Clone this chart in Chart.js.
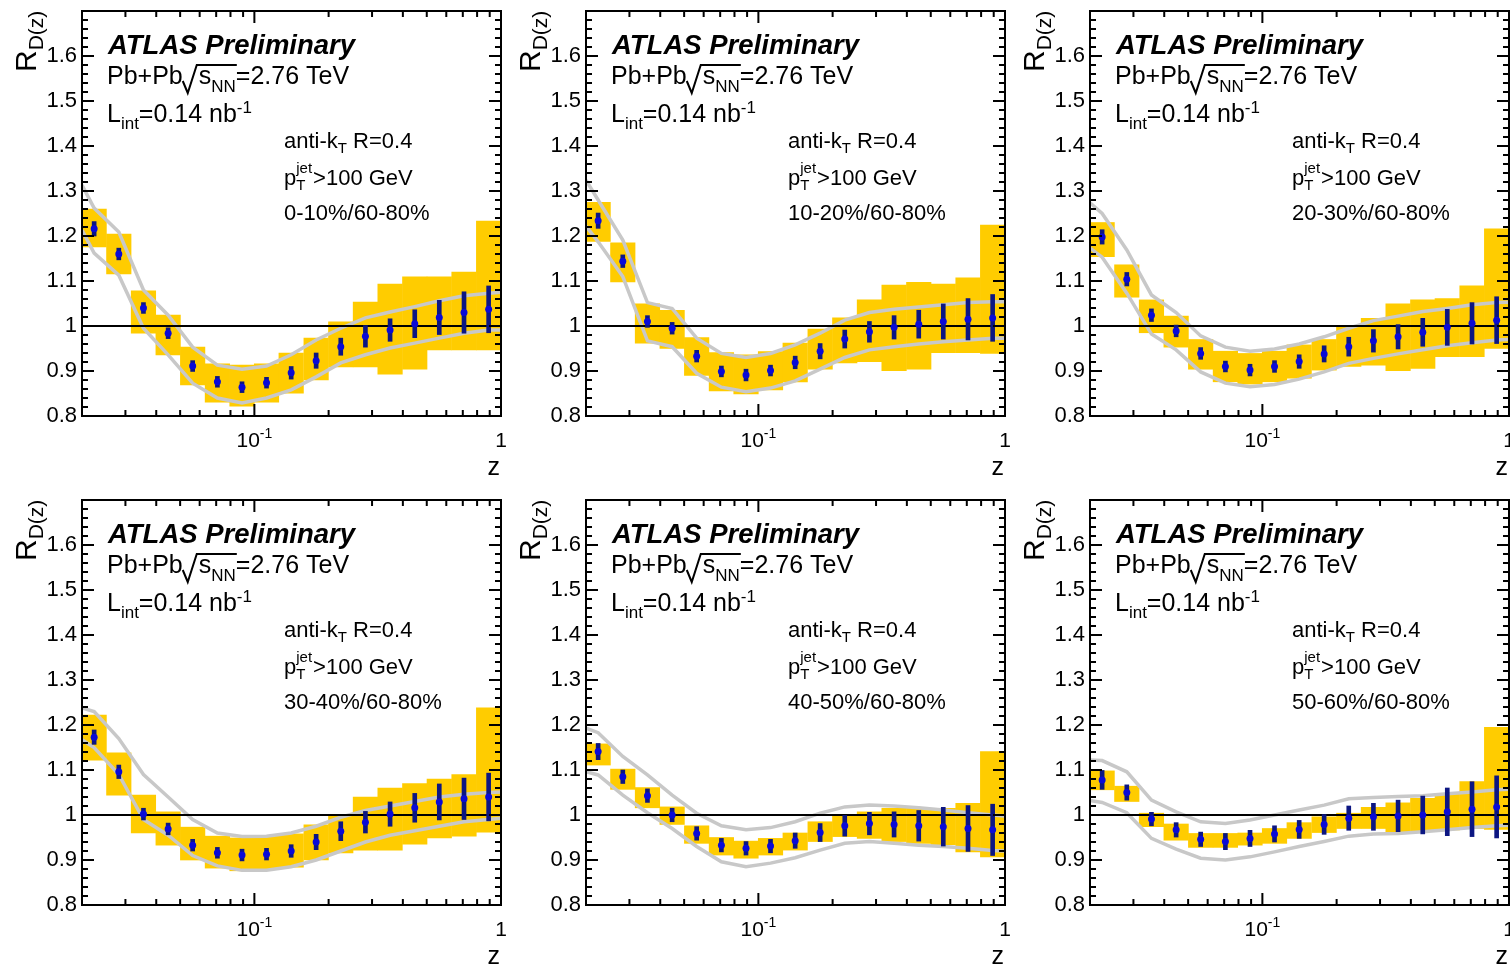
<!DOCTYPE html>
<html>
<head>
<meta charset="utf-8">
<script src="https://cdn.jsdelivr.net/npm/chart.js@4.4.0/dist/chart.umd.min.js"></script>
<style>
  html, body { margin: 0; padding: 0; background: #fff; }
  body { width: 1510px; height: 966px; overflow: hidden; position: relative; }
  canvas { position: absolute; }
</style>
</head>
<body>
<script>
// bin centres in z (17 log-uniform bins from 0.02 to 1)
const BIN_Z = [0.0224, 0.0282, 0.0355, 0.0447, 0.0562, 0.0708, 0.0891, 0.112, 0.141,
               0.178, 0.224, 0.282, 0.355, 0.447, 0.562, 0.708, 0.891];
// theory band is sampled at the edges and at the bin centres
const THEORY_Z = [0.02, 0.0224, 0.0282, 0.0355, 0.0447, 0.0562, 0.0708, 0.0891, 0.112, 0.141,
                  0.178, 0.224, 0.282, 0.355, 0.447, 0.562, 0.708, 0.891, 1];
const Y_TICKS = [0.8, 0.9, 1, 1.1, 1.2, 1.3, 1.4, 1.5, 1.6];
const X_MAJOR = [0.1, 1];
const X_TICK_LABELS = [['10', '-1'], ['1', '']];

// 0-10%/60-80%
const RD_0_10     = [1.216, 1.160, 1.040, 0.984, 0.911, 0.876, 0.864, 0.874, 0.896, 0.923, 0.954, 0.977, 0.991, 1.005, 1.019, 1.030, 1.037];
const STAT_0_10   = [0.016, 0.013, 0.012, 0.012, 0.012, 0.012, 0.012, 0.012, 0.014, 0.017, 0.019, 0.024, 0.025, 0.031, 0.038, 0.046, 0.052];
const SYS_HI_0_10 = [1.260, 1.204, 1.078, 1.024, 0.953, 0.916, 0.913, 0.916, 0.940, 0.973, 1.009, 1.053, 1.093, 1.109, 1.109, 1.120, 1.233];
const SYS_LO_0_10 = [1.176, 1.116, 0.984, 0.936, 0.869, 0.831, 0.822, 0.831, 0.851, 0.880, 0.909, 0.909, 0.893, 0.904, 0.947, 0.947, 0.947];
const TH_UP_0_10  = [1.313, 1.262, 1.209, 1.080, 1.024, 0.953, 0.913, 0.904, 0.911, 0.936, 0.969, 0.995, 1.018, 1.031, 1.043, 1.056, 1.067, 1.073, 1.075];
const TH_DN_0_10  = [1.213, 1.162, 1.113, 0.995, 0.936, 0.873, 0.840, 0.829, 0.840, 0.858, 0.887, 0.918, 0.936, 0.951, 0.962, 0.973, 0.984, 0.991, 0.991];

// 10-20%/60-80%
const RD_10_20     = [1.234, 1.144, 1.010, 0.995, 0.933, 0.899, 0.891, 0.901, 0.919, 0.944, 0.971, 0.987, 0.997, 1.004, 1.010, 1.015, 1.018];
const STAT_10_20   = [0.017, 0.014, 0.013, 0.013, 0.013, 0.012, 0.013, 0.012, 0.014, 0.017, 0.020, 0.023, 0.026, 0.031, 0.039, 0.046, 0.052];
const SYS_HI_10_20 = [1.275, 1.185, 1.049, 1.035, 0.974, 0.941, 0.936, 0.943, 0.962, 0.993, 1.018, 1.058, 1.091, 1.097, 1.093, 1.107, 1.224];
const SYS_LO_10_20 = [1.188, 1.098, 0.962, 0.950, 0.890, 0.856, 0.849, 0.858, 0.876, 0.904, 0.918, 0.921, 0.901, 0.904, 0.941, 0.941, 0.939];
const TH_UP_10_20  = [1.324, 1.280, 1.191, 1.052, 1.039, 0.973, 0.939, 0.930, 0.939, 0.958, 0.984, 1.013, 1.030, 1.037, 1.042, 1.047, 1.052, 1.054, 1.054];
const TH_DN_10_20  = [1.222, 1.187, 1.110, 0.967, 0.954, 0.895, 0.864, 0.854, 0.862, 0.878, 0.904, 0.930, 0.947, 0.954, 0.960, 0.965, 0.969, 0.973, 0.973];

// 20-30%/60-80%
const RD_20_30     = [1.198, 1.104, 1.024, 0.989, 0.939, 0.910, 0.902, 0.910, 0.921, 0.938, 0.954, 0.967, 0.976, 0.986, 0.997, 1.006, 1.013];
const STAT_20_30   = [0.016, 0.015, 0.014, 0.013, 0.013, 0.012, 0.013, 0.013, 0.015, 0.018, 0.021, 0.025, 0.027, 0.031, 0.040, 0.046, 0.052];
const SYS_HI_20_30 = [1.230, 1.136, 1.058, 1.022, 0.970, 0.944, 0.939, 0.944, 0.958, 0.970, 0.998, 1.017, 1.049, 1.058, 1.061, 1.089, 1.216];
const SYS_LO_20_30 = [1.154, 1.064, 0.985, 0.953, 0.904, 0.876, 0.871, 0.876, 0.884, 0.902, 0.910, 0.913, 0.901, 0.906, 0.932, 0.932, 0.950];
const TH_UP_20_30  = [1.274, 1.250, 1.169, 1.069, 1.030, 0.978, 0.953, 0.944, 0.949, 0.960, 0.976, 0.995, 1.012, 1.022, 1.032, 1.039, 1.047, 1.052, 1.053];
const TH_DN_20_30  = [1.173, 1.153, 1.073, 0.982, 0.947, 0.898, 0.873, 0.865, 0.870, 0.882, 0.898, 0.917, 0.928, 0.938, 0.947, 0.956, 0.963, 0.969, 0.970];

// 30-40%/60-80%
const RD_30_40     = [1.173, 1.096, 1.002, 0.969, 0.933, 0.916, 0.911, 0.913, 0.920, 0.940, 0.964, 0.984, 1.002, 1.016, 1.029, 1.036, 1.040];
const STAT_30_40   = [0.016, 0.015, 0.013, 0.013, 0.013, 0.012, 0.013, 0.013, 0.014, 0.017, 0.021, 0.024, 0.027, 0.032, 0.040, 0.046, 0.053];
const SYS_HI_30_40 = [1.222, 1.138, 1.044, 1.007, 0.973, 0.953, 0.949, 0.953, 0.958, 0.978, 1.000, 1.040, 1.060, 1.070, 1.080, 1.090, 1.238];
const SYS_LO_30_40 = [1.122, 1.044, 0.960, 0.933, 0.900, 0.882, 0.876, 0.880, 0.884, 0.900, 0.916, 0.922, 0.922, 0.935, 0.949, 0.953, 0.962];
const TH_UP_30_40  = [1.238, 1.230, 1.170, 1.090, 1.040, 0.990, 0.960, 0.952, 0.953, 0.960, 0.975, 0.995, 1.010, 1.020, 1.030, 1.040, 1.046, 1.050, 1.051];
const TH_DN_30_40  = [1.167, 1.150, 1.090, 0.990, 0.955, 0.910, 0.887, 0.877, 0.877, 0.885, 0.900, 0.920, 0.940, 0.955, 0.965, 0.975, 0.985, 0.990, 0.993];

// 40-50%/60-80%
const RD_40_50     = [1.141, 1.085, 1.043, 1.000, 0.959, 0.933, 0.926, 0.931, 0.943, 0.961, 0.976, 0.981, 0.979, 0.976, 0.974, 0.970, 0.967];
const STAT_40_50   = [0.018, 0.015, 0.015, 0.015, 0.015, 0.015, 0.015, 0.015, 0.017, 0.020, 0.023, 0.025, 0.028, 0.034, 0.043, 0.051, 0.057];
const SYS_HI_40_50 = [1.158, 1.102, 1.061, 1.018, 0.976, 0.950, 0.942, 0.948, 0.960, 0.985, 1.000, 1.007, 1.015, 1.015, 1.015, 1.026, 1.141];
const SYS_LO_40_50 = [1.111, 1.057, 1.016, 0.979, 0.937, 0.911, 0.904, 0.911, 0.922, 0.941, 0.952, 0.948, 0.941, 0.937, 0.934, 0.918, 0.907];
const TH_UP_40_50  = [1.193, 1.183, 1.130, 1.089, 1.044, 1.004, 0.976, 0.967, 0.972, 0.985, 1.004, 1.018, 1.022, 1.020, 1.016, 1.011, 1.005, 1.000, 0.998];
const TH_DN_40_50  = [1.096, 1.089, 1.044, 1.005, 0.970, 0.930, 0.896, 0.885, 0.893, 0.905, 0.922, 0.937, 0.941, 0.937, 0.933, 0.930, 0.926, 0.921, 0.920];

// 50-60%/60-80%
const RD_50_60     = [1.078, 1.050, 0.991, 0.967, 0.946, 0.941, 0.948, 0.958, 0.968, 0.979, 0.993, 0.996, 0.998, 1.000, 1.007, 1.013, 1.018];
const STAT_50_60   = [0.021, 0.017, 0.015, 0.016, 0.016, 0.018, 0.018, 0.018, 0.020, 0.022, 0.027, 0.030, 0.035, 0.042, 0.053, 0.061, 0.069];
const SYS_HI_50_60 = [1.098, 1.064, 1.004, 0.980, 0.959, 0.959, 0.960, 0.970, 0.983, 0.996, 1.004, 1.017, 1.027, 1.037, 1.048, 1.074, 1.195];
const SYS_LO_50_60 = [1.056, 1.030, 0.974, 0.944, 0.928, 0.928, 0.933, 0.937, 0.948, 0.961, 0.970, 0.970, 0.961, 0.963, 0.967, 0.970, 0.968];
const TH_UP_50_60  = [1.122, 1.121, 1.096, 1.033, 1.007, 0.985, 0.981, 0.989, 1.000, 1.011, 1.022, 1.036, 1.039, 1.041, 1.043, 1.047, 1.051, 1.056, 1.057];
const TH_DN_50_60  = [1.032, 1.028, 1.005, 0.948, 0.924, 0.904, 0.900, 0.907, 0.918, 0.930, 0.941, 0.953, 0.958, 0.959, 0.963, 0.967, 0.972, 0.976, 0.977];

const FONT = '"Liberation Sans", Arial, Helvetica, sans-serif';
const YELLOW = 'rgb(255,204,0)';
const GREY = 'rgb(200,200,200)';

const PANELS = [
  { left: 0,    top: 0,   label: '0-10%/60-80%',  rd: RD_0_10,  stat: STAT_0_10,  hi: SYS_HI_0_10,  lo: SYS_LO_0_10,  up: TH_UP_0_10,  dn: TH_DN_0_10 },
  { left: 504,  top: 0,   label: '10-20%/60-80%', rd: RD_10_20, stat: STAT_10_20, hi: SYS_HI_10_20, lo: SYS_LO_10_20, up: TH_UP_10_20, dn: TH_DN_10_20 },
  { left: 1008, top: 0,   label: '20-30%/60-80%', rd: RD_20_30, stat: STAT_20_30, hi: SYS_HI_20_30, lo: SYS_LO_20_30, up: TH_UP_20_30, dn: TH_DN_20_30 },
  { left: 0,    top: 489, label: '30-40%/60-80%', rd: RD_30_40, stat: STAT_30_40, hi: SYS_HI_30_40, lo: SYS_LO_30_40, up: TH_UP_30_40, dn: TH_DN_30_40 },
  { left: 504,  top: 489, label: '40-50%/60-80%', rd: RD_40_50, stat: STAT_40_50, hi: SYS_HI_40_50, lo: SYS_LO_40_50, up: TH_UP_40_50, dn: TH_DN_40_50 },
  { left: 1008, top: 489, label: '50-60%/60-80%', rd: RD_50_60, stat: STAT_50_60, hi: SYS_HI_50_60, lo: SYS_LO_50_60, up: TH_UP_50_60, dn: TH_DN_50_60 }
];

// draw a run of text pieces (with sub/superscripts), returns end x
function drawRich(ctx, x, y, parts) {
  let cx = x;
  for (const p of parts) {
    ctx.font = (p.style || '') + ' ' + p.size + 'px ' + FONT;
    ctx.fillText(p.t, cx, y + (p.dy || 0));
    cx += ctx.measureText(p.t).width;
  }
  return cx;
}

// ROOT-like frame, inward ticks and all the labels
function rootPlugin(panel) {
  return {
    id: 'rootFrame',
    afterDraw(chart) {
      const ctx = chart.ctx;
      const a = chart.chartArea;
      const xs = chart.scales.x;
      const ys = chart.scales.y;
      ctx.save();
      ctx.strokeStyle = '#000';
      ctx.lineWidth = 2;
      ctx.strokeRect(a.left, a.top, a.right - a.left, a.bottom - a.top);

      ctx.beginPath();
      for (let i = 0; i <= 45; i++) {
        const y = ys.getPixelForValue(0.8 + i * 0.02);
        const len = i % 5 === 0 ? 12 : 6;
        ctx.moveTo(a.left, y); ctx.lineTo(a.left + len, y);
        ctx.moveTo(a.right, y); ctx.lineTo(a.right - len, y);
      }
      for (let d = -2; d <= 0; d++) {
        for (let m = 1; m <= 9; m++) {
          const v = m * Math.pow(10, d);
          if (v < xs.min * 0.999 || v > xs.max * 1.001) continue;
          const x = xs.getPixelForValue(v);
          const len = m === 1 ? 12 : 6;
          ctx.moveTo(x, a.bottom); ctx.lineTo(x, a.bottom - len);
          ctx.moveTo(x, a.top); ctx.lineTo(x, a.top + len);
        }
      }
      ctx.stroke();

      ctx.fillStyle = '#000';
      ctx.textBaseline = 'alphabetic';
      ctx.textAlign = 'left';

      // x tick labels
      X_MAJOR.forEach((v, i) => {
        const [base, sup] = X_TICK_LABELS[i];
        ctx.font = '21px ' + FONT;
        const w1 = ctx.measureText(base).width;
        ctx.font = '14px ' + FONT;
        const w2 = ctx.measureText(sup).width;
        const x0 = xs.getPixelForValue(v) - (w1 + w2) / 2;
        drawRich(ctx, x0, a.bottom + 31, [
          { t: base, size: 21 },
          { t: sup, size: 14, dy: -9 }
        ]);
      });

      // axis titles
      ctx.font = '25px ' + FONT;
      ctx.textAlign = 'right';
      ctx.fillText('z', a.right - 1, a.bottom + 59);
      ctx.textAlign = 'left';

      ctx.save();
      ctx.translate(a.left - 46, a.top + 61);
      ctx.rotate(-Math.PI / 2);
      drawRich(ctx, 0, 0, [
        { t: 'R', size: 30 },
        { t: 'D(z)', size: 21, dy: 7 }
      ]);
      ctx.restore();

      // labels inside the frame
      const L = a.left, T = a.top;
      drawRich(ctx, L + 26, T + 43, [{ t: 'ATLAS Preliminary', size: 27.5, style: 'italic bold' }]);

      const xe = drawRich(ctx, L + 25, T + 73, [{ t: 'Pb+Pb', size: 25 }]);
      const B = T + 73;
      const sx = xe + 16;
      const xn = drawRich(ctx, sx, B, [{ t: 's', size: 25 }, { t: 'NN', size: 17, dy: 8 }]);
      ctx.beginPath();
      ctx.lineWidth = 2;
      ctx.moveTo(xe, B - 3);
      ctx.lineTo(xe + 5, B + 9);
      ctx.lineTo(xe + 14, B - 19);
      ctx.lineTo(xn + 1, B - 19);
      ctx.stroke();
      drawRich(ctx, xn, B, [{ t: '=2.76 TeV', size: 25 }]);

      drawRich(ctx, L + 25, T + 111, [
        { t: 'L', size: 25 },
        { t: 'int', size: 17, dy: 7 },
        { t: '=0.14 nb', size: 25 },
        { t: '-1', size: 17, dy: -9 }
      ]);

      drawRich(ctx, L + 202, T + 137, [
        { t: 'anti-k', size: 22 },
        { t: 'T', size: 15, dy: 5 },
        { t: ' R=0.4', size: 22 }
      ]);

      const px = drawRich(ctx, L + 202, T + 174, [{ t: 'p', size: 22 }]);
      ctx.font = '15px ' + FONT;
      const wj = ctx.measureText('jet').width;
      ctx.fillText('T', px, T + 179);
      ctx.fillText('jet', px, T + 162);
      drawRich(ctx, px + wj + 1, T + 174, [{ t: '>100 GeV', size: 22 }]);

      drawRich(ctx, L + 202, T + 209, [{ t: panel.label, size: 22 }]);
      ctx.restore();
    }
  };
}

function makePanel(panel) {
  const canvas = document.createElement('canvas');
  canvas.width = 511;
  canvas.height = 483;
  canvas.style.left = panel.left + 'px';
  canvas.style.top = panel.top + 'px';
  document.body.appendChild(canvas);

  const points = BIN_Z.map((z, i) => ({ x: z, y: panel.rd[i] }));
  const statBars = BIN_Z.map((z, i) => ({ x: z, y: [panel.rd[i] - panel.stat[i], panel.rd[i] + panel.stat[i]] }));
  const sysBars = BIN_Z.map((z, i) => ({ x: z, y: [panel.lo[i], panel.hi[i]] }));
  const upper = THEORY_Z.map((z, i) => ({ x: z, y: panel.up[i] }));
  const lower = THEORY_Z.map((z, i) => ({ x: z, y: panel.dn[i] }));
  const unity = [{ x: 0.02, y: 1 }, { x: 1, y: 1 }];

  new Chart(canvas, {
    type: 'bar',
    data: {
      datasets: [
        { type: 'scatter', data: points, pointRadius: 3.5, pointBackgroundColor: 'rgb(10,10,215)', pointBorderWidth: 0, order: 0 },
        { type: 'bar', data: statBars, backgroundColor: 'rgb(12,22,130)', barThickness: 4, grouped: false, borderWidth: 0, order: 1 },
        { type: 'line', data: unity, borderColor: '#000', borderWidth: 2, pointRadius: 0, order: 2 },
        { type: 'line', data: upper, borderColor: GREY, borderWidth: 3.5, pointRadius: 0, tension: 0, order: 3 },
        { type: 'line', data: lower, borderColor: GREY, borderWidth: 3.5, pointRadius: 0, tension: 0, order: 3 },
        { type: 'bar', data: sysBars, backgroundColor: YELLOW, categoryPercentage: 1, barPercentage: 1, grouped: false, borderWidth: 0, order: 5 }
      ]
    },
    options: {
      responsive: false,
      animation: false,
      devicePixelRatio: 1,
      layout: { padding: { top: 11, right: 10, left: 0, bottom: 0 }, autoPadding: false },
      plugins: { legend: { display: false }, tooltip: { enabled: false } },
      scales: {
        x: {
          type: 'logarithmic', min: 0.02, max: 1, offset: false,
          grid: { display: false, drawTicks: false }, border: { display: false },
          ticks: { display: false },
          afterBuildTicks: s => { s.ticks = X_MAJOR.map(v => ({ value: v })); },
          afterFit: s => { s.height = 67; s.paddingLeft = 0; s.paddingRight = 0; }
        },
        y: {
          type: 'linear', min: 0.8, max: 1.7,
          grid: { display: false, drawTicks: false }, border: { display: false },
          ticks: {
            font: { family: FONT, size: 22 }, color: '#000', padding: 5,
            callback: v => String(Math.round(v * 10) / 10)
          },
          afterBuildTicks: s => { s.ticks = Y_TICKS.map(v => ({ value: v })); },
          afterFit: s => { s.width = 82; s.paddingTop = 0; s.paddingBottom = 0; }
        }
      }
    },
    plugins: [rootPlugin(panel)]
  });
}

PANELS.forEach(makePanel);
</script>
</body>
</html>
